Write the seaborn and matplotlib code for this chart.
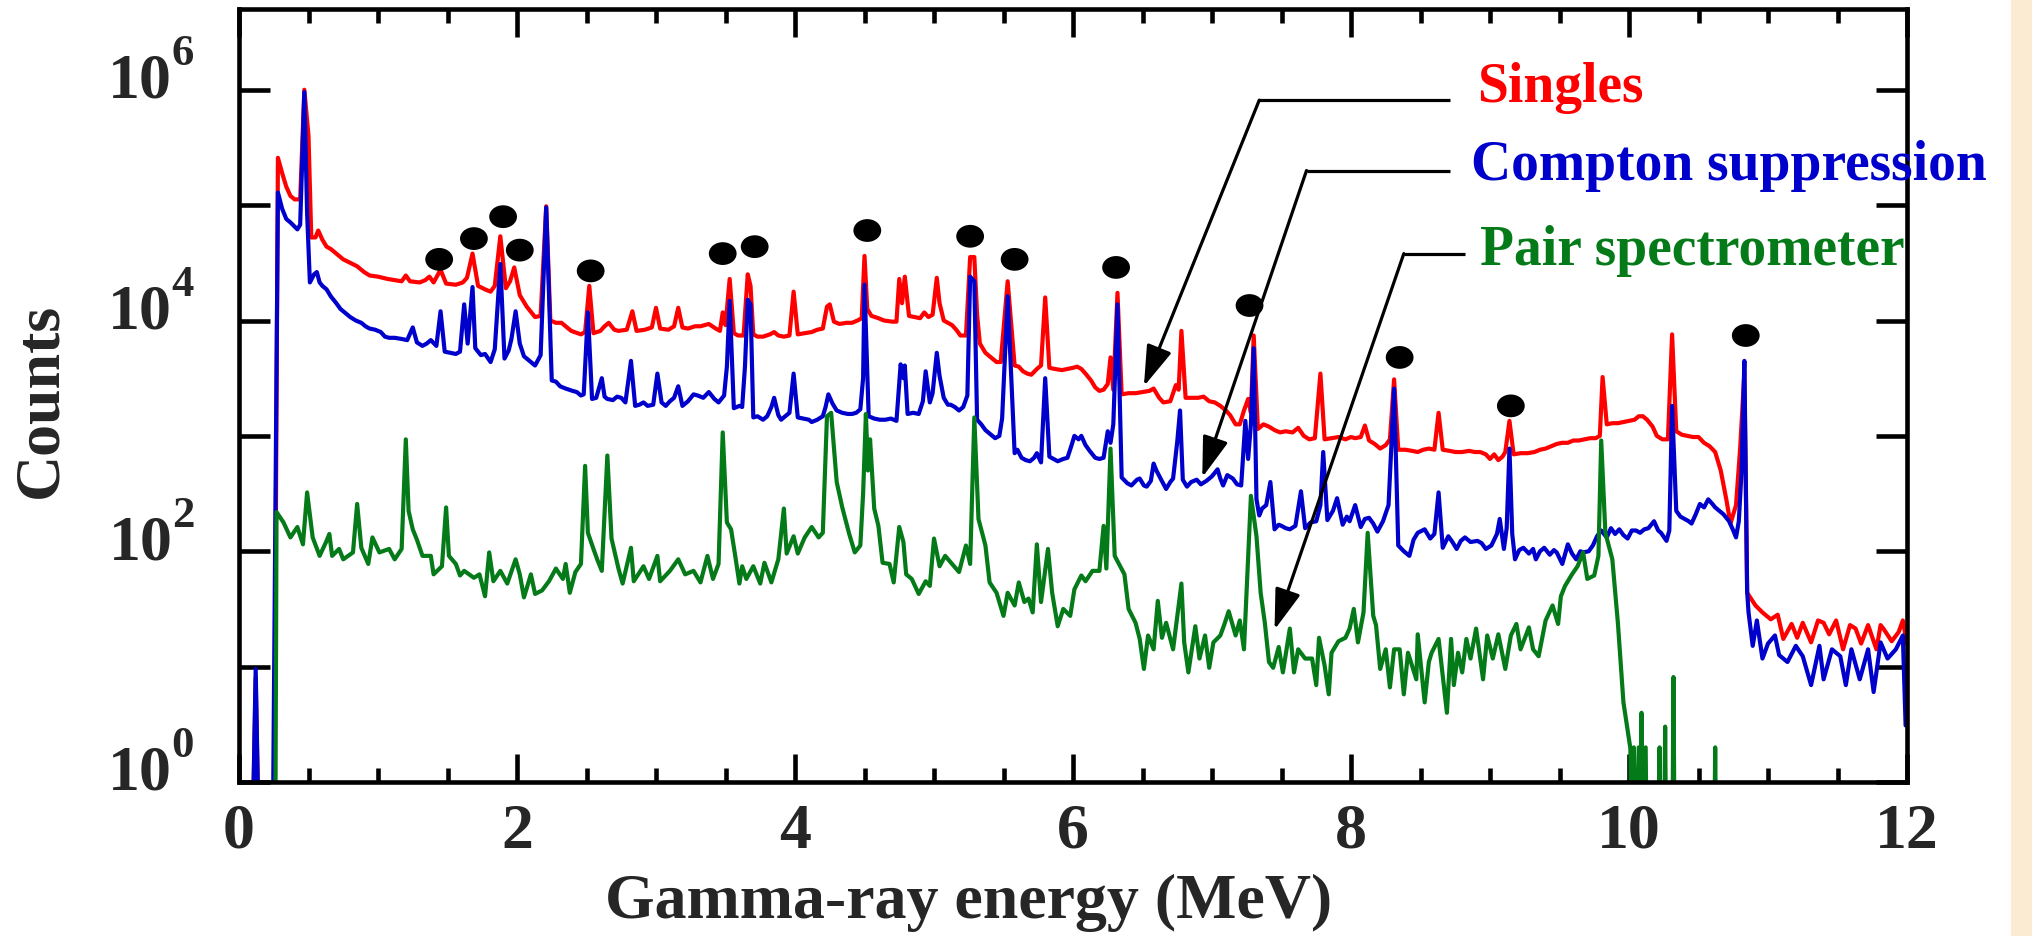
import numpy as np
import matplotlib
matplotlib.use("Agg")
import matplotlib.pyplot as plt
import seaborn as sns
from matplotlib.path import Path
from matplotlib.transforms import Affine2D, ScaledTranslation
from matplotlib.patches import Rectangle
from matplotlib.ticker import MultipleLocator, NullLocator

# raise superscripts a little higher, as in the reference tick labels
try:
    import matplotlib._mathtext as _mt
    _mt.FontConstantsBase.sup1 = 1.13
except Exception:
    pass

# ---------------- data (energy in MeV, log10 of counts; -1 means zero counts) ----------------
red_pts = [
(0.00,-1),(0.09,-1),(0.12,0.90),(0.15,-1),(0.25,-1),(0.28,5.41),(0.31,5.28),(0.34,5.16),(0.37,5.08),(0.40,5.05),
(0.44,5.05),(0.47,6.00),(0.50,5.60),(0.52,4.72),(0.55,4.72),(0.57,4.78),(0.60,4.70),(0.63,4.64),(0.66,4.62),(0.70,4.58),
(0.75,4.53),(0.80,4.50),(0.85,4.47),(0.90,4.42),(0.94,4.39),(1.00,4.38),(1.07,4.36),(1.12,4.35),(1.17,4.34),(1.20,4.39),
(1.23,4.34),(1.30,4.33),(1.34,4.35),(1.37,4.38),(1.40,4.33),(1.45,4.44),(1.49,4.32),(1.56,4.31),(1.61,4.33),(1.64,4.37),
(1.68,4.58),(1.72,4.30),(1.77,4.27),(1.81,4.25),(1.84,4.30),(1.88,4.73),(1.92,4.28),(1.95,4.34),(1.98,4.46),(2.02,4.22),
(2.07,4.12),(2.13,4.03),(2.17,4.04),(2.21,4.99),(2.24,4.00),(2.28,3.98),(2.32,3.98),(2.36,3.94),(2.39,3.91),(2.46,3.88),
(2.49,3.90),(2.52,4.30),(2.55,3.89),(2.60,3.91),(2.63,3.95),(2.66,3.98),(2.70,3.92),(2.73,3.91),(2.79,3.92),(2.83,4.08),
(2.86,3.91),(2.92,3.92),(2.97,3.94),(3.00,4.11),(3.03,3.93),(3.09,3.92),(3.13,3.95),(3.16,4.11),(3.19,3.94),(3.23,3.93),
(3.28,3.95),(3.32,3.95),(3.38,3.97),(3.43,3.93),(3.46,3.91),(3.48,4.07),(3.50,3.96),(3.53,4.36),(3.56,3.89),(3.59,3.87),
(3.63,3.87),(3.66,4.40),(3.68,4.30),(3.70,3.88),(3.73,3.86),(3.77,3.86),(3.82,3.88),(3.85,3.90),(3.88,3.87),(3.92,3.86),
(3.96,3.87),(3.99,4.25),(4.02,3.88),(4.07,3.89),(4.12,3.90),(4.16,3.92),(4.20,3.93),(4.23,4.12),(4.25,4.14),(4.28,3.99),
(4.32,3.97),(4.37,3.98),(4.41,3.98),(4.45,4.00),(4.48,4.02),(4.50,4.56),(4.52,4.10),(4.55,4.04),(4.60,4.02),(4.64,4.00),
(4.70,3.99),(4.73,3.99),(4.75,4.36),(4.77,4.15),(4.79,4.38),(4.82,4.04),(4.86,4.03),(4.90,4.02),(4.93,4.07),(4.96,4.03),
(4.99,4.05),(5.02,4.37),(5.04,4.15),(5.07,4.00),(5.10,3.98),(5.13,3.96),(5.16,3.92),(5.19,3.87),(5.23,3.87),(5.26,4.55),
(5.29,4.55),(5.31,4.05),(5.33,3.80),(5.37,3.72),(5.40,3.69),(5.45,3.64),(5.48,3.64),(5.53,4.34),(5.58,3.61),(5.61,3.60),
(5.64,3.56),(5.67,3.54),(5.70,3.53),(5.74,3.58),(5.77,3.61),(5.80,4.20),(5.83,3.59),(5.87,3.58),(5.92,3.57),(5.96,3.58),
(6.00,3.59),(6.03,3.60),(6.06,3.58),(6.09,3.54),(6.13,3.48),(6.16,3.42),(6.19,3.39),(6.22,3.40),(6.25,3.45),(6.27,3.68),
(6.29,3.40),(6.32,4.24),(6.35,3.36),(6.40,3.37),(6.45,3.37),(6.50,3.38),(6.55,3.39),(6.58,3.41),(6.62,3.33),(6.65,3.29),
(6.70,3.30),(6.74,3.44),(6.76,3.40),(6.78,3.91),(6.81,3.33),(6.86,3.33),(6.90,3.33),(6.94,3.34),(6.98,3.30),(7.02,3.29),
(7.06,3.26),(7.10,3.22),(7.13,3.18),(7.17,3.10),(7.20,3.10),(7.23,3.22),(7.26,3.32),(7.28,3.20),(7.30,3.87),(7.33,3.06),
(7.37,3.10),(7.41,3.08),(7.45,3.05),(7.49,3.03),(7.53,3.04),(7.58,3.03),(7.62,3.07),(7.66,3.00),(7.70,2.97),(7.74,2.98),
(7.78,3.54),(7.81,2.97),(7.86,2.98),(7.91,2.99),(7.96,2.97),(8.00,2.99),(8.03,2.98),(8.07,2.99),(8.10,3.09),(8.13,2.96),
(8.17,2.93),(8.21,2.89),(8.25,2.92),(8.28,2.97),(8.31,3.49),(8.34,2.88),(8.39,2.88),(8.44,2.87),(8.48,2.86),(8.52,2.88),
(8.56,2.89),(8.60,2.88),(8.63,3.20),(8.66,2.88),(8.71,2.87),(8.75,2.86),(8.80,2.86),(8.85,2.87),(8.89,2.86),(8.93,2.86),
(8.97,2.84),(9.00,2.80),(9.03,2.84),(9.06,2.79),(9.09,2.82),(9.11,2.86),(9.14,3.13),(9.17,2.84),(9.22,2.85),(9.27,2.85),
(9.32,2.86),(9.36,2.88),(9.40,2.89),(9.44,2.91),(9.48,2.93),(9.52,2.94),(9.56,2.94),(9.60,2.96),(9.64,2.96),(9.68,2.97),
(9.72,2.98),(9.76,2.98),(9.79,3.00),(9.81,3.51),(9.84,3.10),(9.88,3.11),(9.92,3.11),(9.96,3.12),(10.00,3.13),(10.04,3.14),
(10.07,3.17),(10.10,3.17),(10.13,3.14),(10.17,3.08),(10.20,3.00),(10.24,2.97),(10.28,2.97),(10.31,3.88),(10.34,3.04),(10.38,3.01),
(10.42,3.00),(10.46,2.99),(10.50,2.99),(10.54,2.94),(10.58,2.91),(10.62,2.86),(10.66,2.70),(10.70,2.45),(10.73,2.24),(10.77,2.40),
(10.80,2.90),(10.83,3.55),(10.85,1.64),(10.91,1.53),(10.96,1.47),(11.02,1.41),(11.07,1.45),(11.11,1.24),(11.17,1.37),(11.21,1.25),
(11.25,1.38),(11.31,1.21),(11.36,1.40),(11.40,1.38),(11.44,1.28),(11.49,1.40),(11.54,1.15),(11.59,1.36),(11.63,1.33),(11.67,1.20),
(11.72,1.36),(11.78,1.15),(11.81,1.36),(11.83,1.33),(11.89,1.22),(11.94,1.30),(11.97,1.40),(12.00,1.20),
]

blue_pts = [
(0.00,-1),(0.09,-1),(0.12,0.98),(0.15,-1),(0.24,-1),(0.28,5.11),(0.31,4.97),(0.34,4.88),(0.37,4.85),(0.42,4.79),
(0.44,4.83),(0.47,5.98),(0.49,4.93),(0.51,4.33),(0.54,4.40),(0.56,4.42),(0.58,4.33),(0.60,4.30),(0.63,4.27),(0.66,4.21),
(0.70,4.15),(0.73,4.10),(0.76,4.07),(0.80,4.03),(0.84,4.00),(0.88,3.98),(0.91,3.95),(0.94,3.93),(0.98,3.92),(1.02,3.90),
(1.05,3.86),(1.08,3.85),(1.12,3.85),(1.17,3.84),(1.21,3.83),(1.25,3.94),(1.28,3.81),(1.32,3.78),(1.35,3.80),(1.38,3.83),
(1.42,3.78),(1.45,4.08),(1.48,3.73),(1.52,3.72),(1.56,3.71),(1.59,3.73),(1.62,4.14),(1.645,3.80),(1.68,4.29),(1.70,3.76),
(1.74,3.70),(1.77,3.71),(1.81,3.64),(1.84,3.75),(1.88,4.49),(1.91,3.67),(1.94,3.74),(1.96,3.84),(1.99,4.08),(2.02,3.80),
(2.05,3.69),(2.07,3.67),(2.10,3.64),(2.13,3.61),(2.17,3.70),(2.21,4.98),(2.25,3.48),(2.28,3.47),(2.31,3.43),(2.35,3.41),
(2.40,3.39),(2.43,3.38),(2.46,3.35),(2.48,3.36),(2.51,4.07),(2.54,3.32),(2.57,3.33),(2.61,3.50),(2.63,3.34),(2.65,3.32),
(2.69,3.31),(2.72,3.34),(2.75,3.33),(2.78,3.29),(2.82,3.65),(2.85,3.26),(2.88,3.27),(2.91,3.29),(2.94,3.26),(2.98,3.27),
(3.01,3.54),(3.04,3.29),(3.07,3.26),(3.10,3.30),(3.13,3.33),(3.16,3.43),(3.19,3.26),(3.23,3.30),(3.27,3.36),(3.30,3.35),
(3.34,3.33),(3.38,3.38),(3.42,3.32),(3.45,3.29),(3.49,3.35),(3.51,3.60),(3.53,4.17),(3.56,3.24),(3.60,3.26),(3.62,3.25),
(3.64,3.60),(3.66,4.18),(3.68,4.14),(3.70,3.16),(3.73,3.17),(3.77,3.14),(3.80,3.17),(3.83,3.25),(3.85,3.33),(3.88,3.18),
(3.90,3.14),(3.93,3.17),(3.96,3.20),(3.99,3.54),(4.02,3.16),(4.06,3.15),(4.10,3.14),(4.12,3.12),(4.16,3.14),(4.20,3.17),
(4.22,3.25),(4.24,3.36),(4.27,3.28),(4.30,3.22),(4.34,3.20),(4.38,3.19),(4.41,3.19),(4.44,3.20),(4.47,3.23),(4.49,3.50),
(4.50,4.31),(4.53,3.17),(4.57,3.15),(4.61,3.14),(4.65,3.14),(4.69,3.15),(4.73,3.13),(4.76,3.62),(4.78,3.50),(4.79,3.61),
(4.81,3.19),(4.85,3.20),(4.89,3.19),(4.92,3.30),(4.94,3.56),(4.97,3.29),(4.99,3.37),(5.02,3.72),(5.04,3.52),(5.07,3.33),
(5.10,3.27),(5.12,3.27),(5.15,3.25),(5.18,3.22),(5.21,3.25),(5.24,3.35),(5.26,4.38),(5.29,4.34),(5.31,3.14),(5.34,3.10),
(5.37,3.05),(5.40,3.02),(5.44,2.98),(5.47,3.00),(5.49,3.15),(5.53,4.21),(5.58,2.85),(5.60,2.88),(5.63,2.81),(5.66,2.79),
(5.69,2.78),(5.72,2.81),(5.74,2.85),(5.77,2.77),(5.80,3.50),(5.83,2.82),(5.86,2.80),(5.89,2.78),(5.93,2.80),(5.96,2.81),
(5.99,2.92),(6.01,3.00),(6.04,2.97),(6.06,3.00),(6.09,2.92),(6.12,2.87),(6.16,2.81),(6.19,2.80),(6.22,2.81),(6.25,3.04),
(6.27,2.94),(6.29,3.10),(6.32,4.14),(6.35,2.64),(6.39,2.59),(6.42,2.57),(6.46,2.62),(6.48,2.63),(6.51,2.57),(6.53,2.56),
(6.56,2.61),(6.58,2.76),(6.60,2.70),(6.63,2.63),(6.67,2.54),(6.70,2.60),(6.72,2.63),(6.75,2.95),(6.77,3.22),(6.79,2.62),
(6.82,2.56),(6.85,2.60),(6.89,2.62),(6.92,2.58),(6.96,2.61),(7.00,2.65),(7.04,2.71),(7.06,2.63),(7.08,2.57),(7.11,2.66),
(7.15,2.63),(7.18,2.58),(7.21,2.57),(7.24,3.13),(7.26,2.80),(7.28,3.10),(7.30,3.76),(7.32,2.45),(7.34,2.31),(7.36,2.37),
(7.39,2.40),(7.42,2.60),(7.45,2.19),(7.48,2.23),(7.50,2.22),(7.53,2.20),(7.56,2.19),(7.60,2.22),(7.64,2.52),(7.67,2.20),
(7.71,2.25),(7.75,2.26),(7.78,2.40),(7.80,2.86),(7.83,2.27),(7.87,2.35),(7.90,2.46),(7.94,2.23),(7.97,2.30),(7.99,2.26),
(8.03,2.40),(8.07,2.21),(8.10,2.28),(8.13,2.29),(8.16,2.24),(8.19,2.17),(8.23,2.26),(8.27,2.40),(8.31,3.41),(8.34,2.05),
(8.38,2.00),(8.42,1.96),(8.45,2.10),(8.48,2.16),(8.53,2.19),(8.57,2.11),(8.60,2.15),(8.63,2.51),(8.66,2.03),(8.70,2.13),
(8.73,2.08),(8.76,2.02),(8.79,2.09),(8.82,2.12),(8.86,2.08),(8.91,2.09),(8.94,2.07),(8.97,2.02),(9.01,2.05),(9.05,2.15),
(9.07,2.28),(9.10,2.02),(9.12,2.20),(9.14,2.89),(9.16,2.15),(9.18,1.93),(9.21,2.01),(9.24,2.03),(9.28,1.98),(9.31,2.02),
(9.33,1.93),(9.36,2.00),(9.39,2.03),(9.43,1.97),(9.46,2.01),(9.48,1.99),(9.52,1.89),(9.56,2.06),(9.59,1.98),(9.62,1.93),
(9.65,2.00),(9.67,1.99),(9.71,2.00),(9.74,2.05),(9.77,2.13),(9.80,2.18),(9.84,2.12),(9.87,2.20),(9.90,2.15),(9.93,2.19),
(9.96,2.14),(9.99,2.11),(10.02,2.18),(10.05,2.18),(10.08,2.16),(10.11,2.19),(10.14,2.20),(10.18,2.26),(10.21,2.18),(10.23,2.16),
(10.27,2.09),(10.29,2.18),(10.31,3.26),(10.34,2.35),(10.37,2.30),(10.40,2.28),(10.43,2.26),(10.45,2.24),(10.48,2.32),(10.51,2.41),
(10.54,2.38),(10.57,2.45),(10.60,2.41),(10.62,2.38),(10.65,2.35),(10.68,2.32),(10.72,2.26),(10.75,2.18),(10.77,2.12),(10.79,2.26),
(10.81,2.70),(10.83,3.65),(10.85,1.65),(10.86,1.47),(10.89,1.18),(10.92,1.40),(10.96,1.07),(11.00,1.20),(11.05,1.27),(11.08,1.10),
(11.14,1.04),(11.20,1.18),(11.25,1.09),(11.31,0.84),(11.37,1.18),(11.40,0.89),(11.46,1.15),(11.52,1.09),(11.56,0.84),(11.60,1.15),
(11.66,0.89),(11.72,1.15),(11.76,0.78),(11.81,1.21),(11.86,1.07),(11.92,1.15),(11.97,1.27),(11.99,0.49),
]

green_pts = [
(0.00,-1),(0.26,-1),(0.27,2.34),(0.32,2.25),(0.37,2.12),(0.42,2.21),(0.46,2.06),(0.49,2.51),(0.53,2.12),(0.58,1.96),
(0.63,2.09),(0.65,2.15),(0.67,1.96),(0.72,2.02),(0.75,1.93),(0.82,1.99),(0.85,2.41),(0.88,2.03),(0.93,1.89),(0.96,2.12),
(1.01,1.99),(1.08,2.02),(1.12,1.93),(1.17,2.02),(1.20,2.97),(1.22,2.35),(1.25,2.19),(1.28,2.10),(1.32,1.96),(1.38,1.96),
(1.40,1.80),(1.46,1.87),(1.49,2.38),(1.51,1.96),(1.56,1.89),(1.59,1.79),(1.62,1.83),(1.69,1.77),(1.73,1.80),(1.77,1.61),
(1.80,1.99),(1.83,1.74),(1.88,1.83),(1.93,1.72),(1.99,1.93),(2.02,1.80),(2.05,1.60),(2.10,1.80),(2.13,1.63),(2.18,1.66),
(2.23,1.74),(2.28,1.85),(2.33,1.76),(2.35,1.89),(2.38,1.64),(2.42,1.82),(2.46,1.89),(2.49,2.74),(2.51,2.16),(2.55,2.02),
(2.58,1.92),(2.61,1.83),(2.65,2.83),(2.68,2.11),(2.73,1.85),(2.76,1.72),(2.82,2.03),(2.84,1.74),(2.91,1.87),(2.95,1.76),
(3.01,1.96),(3.03,1.74),(3.10,1.83),(3.16,1.93),(3.21,1.80),(3.27,1.83),(3.32,1.73),(3.37,1.96),(3.41,1.76),(3.45,1.89),
(3.48,3.03),(3.51,2.25),(3.54,2.19),(3.57,1.96),(3.60,1.72),(3.62,1.87),(3.65,1.76),(3.70,1.87),(3.75,1.72),(3.78,1.90),
(3.83,1.73),(3.88,1.93),(3.92,2.37),(3.94,1.98),(3.99,2.13),(4.02,1.98),(4.07,2.12),(4.12,2.21),(4.17,2.12),(4.20,2.16),
(4.23,3.17),(4.26,3.20),(4.30,2.60),(4.34,2.38),(4.39,2.15),(4.43,1.99),(4.47,2.05),(4.49,2.50),(4.51,3.19),(4.525,2.70),
(4.54,2.97),(4.57,2.37),(4.60,2.22),(4.63,1.90),(4.68,1.89),(4.71,1.73),(4.75,2.21),(4.78,2.08),(4.80,1.80),(4.84,1.76),
(4.89,1.63),(4.94,1.74),(4.97,1.70),(5.00,2.11),(5.04,1.87),(5.08,1.96),(5.13,1.89),(5.18,1.82),(5.23,2.05),(5.26,1.89),
(5.29,3.16),(5.32,2.28),(5.37,2.05),(5.40,1.73),(5.45,1.64),(5.50,1.44),(5.53,1.64),(5.58,1.53),(5.61,1.73),(5.65,1.56),
(5.68,1.59),(5.71,1.47),(5.74,2.06),(5.77,1.56),(5.82,2.02),(5.85,1.64),(5.89,1.35),(5.93,1.50),(5.98,1.44),(6.01,1.67),
(6.06,1.79),(6.09,1.74),(6.14,1.83),(6.19,1.83),(6.22,2.22),(6.24,1.85),(6.27,2.89),(6.30,1.96),(6.37,1.80),(6.40,1.50),
(6.45,1.38),(6.48,1.24),(6.51,0.98),(6.54,1.27),(6.58,1.15),(6.61,1.57),(6.64,1.25),(6.67,1.38),(6.72,1.15),(6.78,1.72),
(6.80,1.21),(6.83,0.95),(6.88,1.35),(6.91,1.07),(6.95,1.27),(6.98,0.99),(7.01,1.21),(7.06,1.27),(7.09,1.37),(7.12,1.48),
(7.17,1.27),(7.20,1.40),(7.23,1.15),(7.28,2.48),(7.32,2.13),(7.35,1.64),(7.38,1.38),(7.41,1.04),(7.44,0.99),(7.48,1.17),
(7.51,0.95),(7.56,1.33),(7.59,0.95),(7.62,1.15),(7.67,1.07),(7.72,1.07),(7.75,0.84),(7.77,1.25),(7.81,1.01),(7.84,0.76),
(7.86,1.12),(7.91,1.22),(7.96,1.25),(7.99,1.33),(8.02,1.50),(8.05,1.21),(8.09,1.47),(8.12,2.16),(8.16,1.44),(8.18,1.36),
(8.21,0.98),(8.25,1.15),(8.28,0.82),(8.31,1.15),(8.35,1.15),(8.38,0.76),(8.41,1.12),(8.47,0.89),(8.48,1.28),(8.53,0.69),
(8.56,1.04),(8.58,1.12),(8.63,1.24),(8.66,0.92),(8.69,0.60),(8.72,1.24),(8.74,0.84),(8.77,1.12),(8.80,0.95),(8.83,1.24),
(8.86,1.07),(8.90,1.33),(8.95,0.89),(8.98,1.27),(9.02,1.07),(9.06,1.28),(9.11,0.98),(9.15,1.27),(9.19,1.37),(9.22,1.15),
(9.28,1.34),(9.31,1.15),(9.35,1.09),(9.40,1.40),(9.45,1.53),(9.49,1.37),(9.51,1.61),(9.54,1.70),(9.59,1.80),(9.63,1.87),
(9.67,1.99),(9.70,1.76),(9.75,1.79),(9.78,1.96),(9.80,2.96),(9.83,2.16),(9.88,1.93),(9.92,1.38),(9.96,0.69),(10.01,0.29),
(10.02,-1),(10.035,0.30),(10.05,-1),(10.07,0.30),(10.08,-1),(10.09,0.60),(10.10,-1),(10.12,0.30),(10.13,-1),(10.21,-1),
(10.22,0.30),(10.23,-1),(10.25,-1),(10.26,0.48),(10.27,-1),(10.31,-1),(10.32,0.91),(10.33,-1),(10.61,-1),(10.62,0.30),
(10.63,-1),(12.00,-1),
]

# peaks marked with black dots
dot_E = [1.44, 1.69, 1.90, 2.02, 2.53, 3.48, 3.71, 4.52, 5.26, 5.58, 6.31, 7.27, 8.35, 9.15, 10.84]
dot_logc = [4.53, 4.71, 4.90, 4.61, 4.43, 4.58, 4.64, 4.78, 4.73, 4.53, 4.46, 4.13, 3.68, 3.26, 3.87]

series_names = ["Singles", "Compton suppression", "Pair spectrometer"]
series_colors = ["#ff0000", "#0000cd", "#057a18"]

x_ticks = [0, 2, 4, 6, 8, 10, 12]
y_tick_exp = [0, 1, 2, 3, 4, 5, 6]
y_tick_labels = [r"$\mathbf{10^{0}}$", "", r"$\mathbf{10^{2}}$", "", r"$\mathbf{10^{4}}$", "", r"$\mathbf{10^{6}}$"]

# ---------------- style ----------------
sns.set_style("ticks")
plt.rcParams["font.family"] = ["Liberation Serif", "DejaVu Serif"]
plt.rcParams["font.weight"] = "bold"
plt.rcParams["mathtext.fontset"] = "custom"
plt.rcParams["mathtext.rm"] = "Liberation Serif:bold"
plt.rcParams["mathtext.bf"] = "Liberation Serif:bold"
plt.rcParams["mathtext.it"] = "Liberation Serif:bold:italic"

W, H = 2032, 937
fig = plt.figure(figsize=(W / 100, H / 100), dpi=100, facecolor="white")
# beige page strip on the right edge
fig.add_artist(Rectangle((2011 / W, 0), 21 / W, 1, transform=fig.transFigure,
                         facecolor="#fbebd3", edgecolor="none", zorder=0))

L, R, T, B = 239, 1907, 10, 783
ax = fig.add_axes([L / W, 1 - B / H, (R - L) / W, (B - T) / H])
ax.set_yscale("log")

for pts, col in zip([red_pts, blue_pts, green_pts], series_colors):
    E = [p[0] for p in pts]
    c = [10.0 ** p[1] for p in pts]
    sns.lineplot(x=E, y=c, ax=ax, color=col, linewidth=3.0, estimator=None, sort=False)

ell = Path.unit_circle().transformed(Affine2D().scale(1.0, 0.82))
sns.scatterplot(x=dot_E, y=[10.0 ** v for v in dot_logc], ax=ax, marker=ell, s=400,
                color="black", edgecolor="none", linewidth=0, zorder=6)

ax.set_xlim(0, 12)
ax.set_ylim(1, 10 ** 6.70)

# ---------------- annotation leaders ----------------
ann = [  # (text, color, text_x, baseline_logy, corner_x, corner_logy, end_x, tip_x, tip_logy)
    (series_names[0], series_colors[0], 8.91, 5.90, 7.34, 5.91, 8.71, 6.51, 3.43),
    (series_names[1], series_colors[1], 8.86, 5.225, 7.68, 5.30, 8.71, 6.93, 2.64),
    (series_names[2], series_colors[2], 8.93, 4.49, 8.38, 4.58, 8.82, 7.45, 1.32),
]
for txt, col, tx, ty, cx, cy, ex, tipx, tipy in ann:
    ax.plot([ex, cx], [10 ** cy, 10 ** cy], color="black", lw=2.3, solid_capstyle="butt", zorder=7)
    ax.annotate("", xy=(tipx, 10 ** tipy), xytext=(cx, 10 ** cy),
                arrowprops=dict(arrowstyle="-|>,head_length=0.5,head_width=0.16", mutation_scale=50,
                                color="black", lw=2.3, shrinkA=0, shrinkB=0), zorder=7)
    ax.text(tx, 10 ** ty, txt, color=col, fontsize=40, fontweight="bold", ha="left", va="baseline",
            zorder=8, clip_on=False)

# ---------------- axes & ticks ----------------
ax.set_xticks(x_ticks)
ax.set_xticklabels([str(v) for v in x_ticks])
ax.xaxis.set_minor_locator(MultipleLocator(0.5))
ax.set_yticks([10.0 ** k for k in y_tick_exp])
ax.set_yticklabels(y_tick_labels)
ax.yaxis.set_minor_locator(NullLocator())

ax.tick_params(which="both", direction="in", top=True, right=True, width=3.3, color="black")
ax.tick_params(axis="x", which="major", length=20, labelsize=46, pad=15)
ax.tick_params(axis="x", which="minor", length=10)
ax.tick_params(axis="y", which="major", length=22, labelsize=46, pad=32)

for lab in ax.get_yticklabels():
    lab.set_va("baseline")
    lab.set_transform(lab.get_transform() + ScaledTranslation(0, -8 / 100, fig.dpi_scale_trans))

for s in ax.spines.values():
    s.set_linewidth(3.3)
    s.set_color("black")
    s.set_visible(True)

ax.set_xlabel("Gamma-ray energy (MeV)", fontsize=46, fontweight="bold")
ax.xaxis.set_label_coords(0.4376, -0.118)
ax.set_ylabel("Counts", fontsize=46, fontweight="bold")
ax.yaxis.set_label_coords(-0.101, 0.495)

fig.savefig("out.png", dpi=100, facecolor="white")
